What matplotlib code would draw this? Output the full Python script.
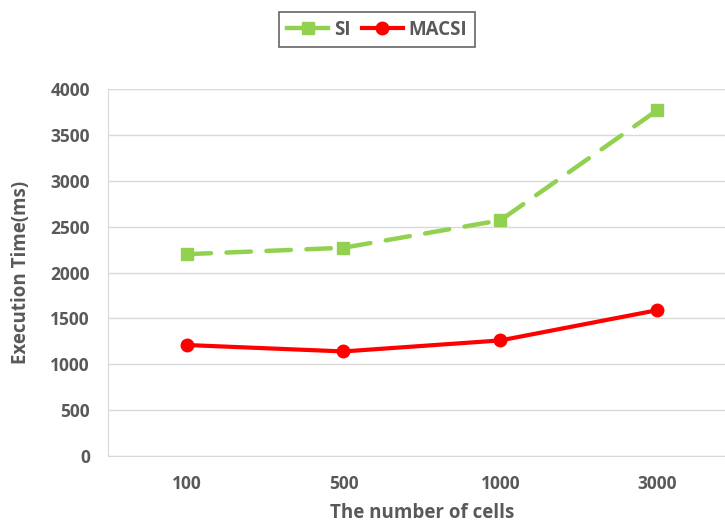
import matplotlib
matplotlib.use("Agg")
import matplotlib.pyplot as plt

# execution time per number of cells
cells = ["100", "500", "1000", "3000"]
si_time = [2200, 2270, 2570, 3770]
macsi_time = [1210, 1140, 1260, 1590]

TEXT = "#595959"
GRID = "#D9D9D9"

plt.rcParams["font.family"] = ["Open Sans", "DejaVu Sans"]
plt.rcParams["font.weight"] = "bold"

fig = plt.figure(figsize=(7.25, 5.27), dpi=100)
ax = fig.add_axes([0.149, 0.1347, 0.866, 0.6963])

x = range(len(cells))
ax.plot(x, si_time, color="#92D050", linewidth=3.2, linestyle=(0, (5.5, 3.5)),
        marker="s", markersize=8, label="SI", dash_capstyle="round")
ax.plot(x, macsi_time, color="#FF0000", linewidth=3,
        marker="o", markersize=9, label="MACSI")

ax.set_xlim(-0.5, len(cells) - 0.5)
ax.set_ylim(0, 4000)
ax.set_yticks(range(0, 4001, 500))
ax.set_xticks(list(x))
ax.set_xticklabels(cells)

ax.grid(axis="y", color=GRID, linewidth=1)
ax.set_axisbelow(True)
for side in ["top", "right"]:
    ax.spines[side].set_visible(False)
ax.spines["left"].set_color(GRID)
ax.spines["bottom"].set_color(GRID)
ax.tick_params(length=0, labelsize=12.5, labelcolor=TEXT)
ax.tick_params(axis="y", pad=13)
ax.tick_params(axis="x", pad=14)
for lbl in ax.get_xticklabels() + ax.get_yticklabels():
    lbl.set_fontweight("bold")

ax.set_xlabel("The number of cells", fontsize=13.5, color=TEXT,
              fontweight="bold", labelpad=7)
ax.set_ylabel("Execution Time(ms)", fontsize=13.5, color=TEXT,
              fontweight="bold", labelpad=14)

leg = fig.legend(loc="upper center", bbox_to_anchor=(0.52, 0.995), ncol=2,
                 frameon=True, fancybox=False, fontsize=13.5,
                 handlelength=2.2, columnspacing=0.6, handletextpad=0.3,
                 borderpad=0.4)
leg.get_frame().set_edgecolor("#404040")
leg.get_frame().set_linewidth(1.2)
# short legend handle looks solid
leg.get_lines()[0].set_linestyle("-")
for t in leg.get_texts():
    t.set_color(TEXT)
    t.set_fontweight("bold")

fig.savefig("out.png", dpi=100)
